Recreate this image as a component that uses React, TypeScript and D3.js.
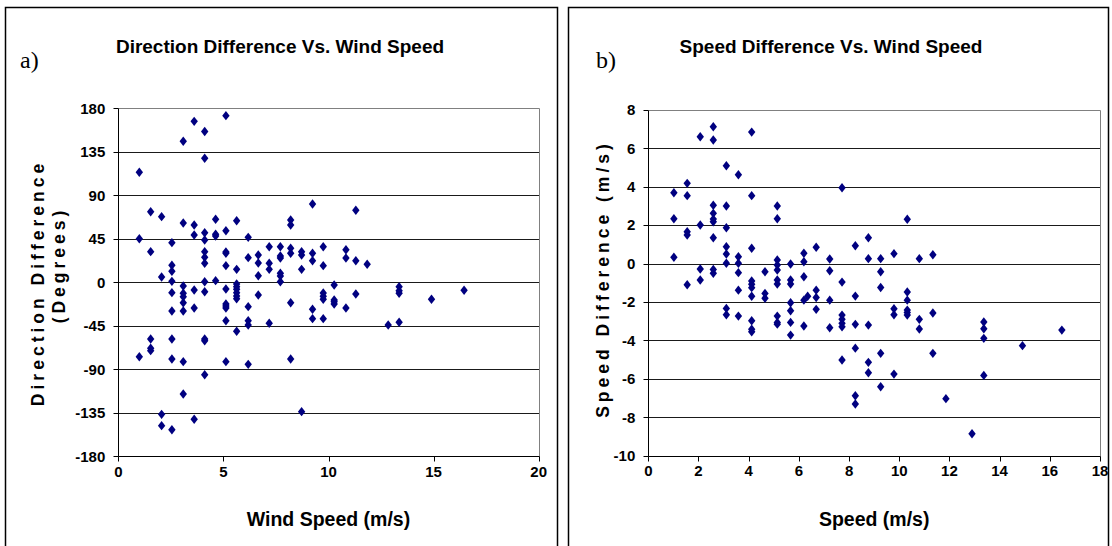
import React from "react";
import * as d3 from "d3";

// ---------- DATA ----------
const dirTitle = "Direction Difference Vs. Wind Speed";
const spdTitle = "Speed Difference Vs. Wind Speed";
const dirYTicks = [-180, -135, -90, -45, 0, 45, 90, 135, 180];
const dirXTicks = [0, 5, 10, 15, 20];
const spdYTicks = [-10, -8, -6, -4, -2, 0, 2, 4, 6, 8];
const spdXTicks = [0, 2, 4, 6, 8, 10, 12, 14, 16, 18];

// Direction difference (degrees) vs wind speed (m/s)
const dirPoints: [number, number][] = [
  [1.0, 113.8], [1.0, 45], [1.0, -77],
  [1.54, 73], [1.54, 31.7], [1.54, -58.7], [1.54, -68.3], [1.54, -70.7],
  [2.06, 67.9], [2.06, 5.5], [2.06, -136.6], [2.06, -148.3],
  [2.55, 41], [2.55, 17.6], [2.55, 11.4], [2.55, 1.0], [2.55, -10.7], [2.55, -29.7], [2.55, -58.7], [2.55, -79.3], [2.55, -152.5],
  [3.09, 145.9], [3.09, 61.3], [3.09, -3.8], [3.09, -11.4], [3.09, -14.9], [3.09, -21.1], [3.09, -29.7], [3.09, -82.1], [3.09, -115.6],
  [3.61, 166.5], [3.61, 59.3], [3.61, 49], [3.61, -8], [3.61, -26.6], [3.61, -141.7],
  [4.11, 156], [4.11, 128.3], [4.11, 51.3], [4.11, 43.8], [4.11, 31.7], [4.11, 25.9], [4.11, 19.7], [4.11, 0.6], [4.11, -9.7], [4.11, -58.7], [4.11, -60.4], [4.11, -95.6],
  [4.63, 65.2], [4.63, 49.7], [4.63, 47.9], [4.63, 1.7],
  [5.12, 172.4], [5.12, 53.4], [5.12, 31.3], [5.12, 30], [5.12, 17.2], [5.12, -6.9], [5.12, -22.4], [5.12, -24.5], [5.12, -26.6], [5.12, -39.7], [5.12, -82.1],
  [5.63, 63.7], [5.63, 13.4], [5.63, -1.8], [5.63, -4.5], [5.63, -7.2], [5.63, -10.8], [5.63, -14.2], [5.63, -17], [5.63, -50.7],
  [6.18, 46.5], [6.18, 25.5], [6.18, -25.2], [6.18, -39.7], [6.18, -44.2], [6.18, -84.9],
  [6.66, 28.2], [6.66, 20], [6.66, 6.8], [6.66, -13.1],
  [7.18, 36.8], [7.18, 19.7], [7.18, 13.4], [7.18, -42.4],
  [7.71, 36.8], [7.71, 27.2], [7.71, 25.1], [7.71, 9.3], [7.71, 6.5], [7.71, 0.6],
  [8.2, 64.4], [8.2, 59.3], [8.2, 35.2], [8.2, 30], [8.2, -21.1], [8.2, -79.3],
  [8.72, 31.7], [8.72, 28.2], [8.72, 13.4], [8.72, -133.8],
  [9.24, 81], [9.24, 30], [9.24, 22.3], [9.24, -27.9], [9.24, -37.6],
  [9.75, 36.8], [9.75, 17.2], [9.75, -11], [9.75, -14.5], [9.75, -17.6], [9.75, -37.6],
  [10.27, -2.8], [10.27, -18.3], [10.27, -20], [10.27, -22.4],
  [10.83, 33.7], [10.83, 25.1], [10.83, -26.6],
  [11.3, 74.5], [11.3, 22.3], [11.3, -12.1],
  [11.84, 18.6],
  [12.84, -44.2],
  [13.36, -4.5], [13.36, -8.7], [13.36, -11.4], [13.36, -41.4],
  [14.9, -17.6],
  [16.45, -8.3],
];

// Speed difference (m/s) vs speed (m/s)
const spdPoints: [number, number][] = [
  [1.02, 3.69], [1.02, 2.34], [1.02, 0.33],
  [1.55, 4.18], [1.55, 3.54], [1.55, 1.66], [1.55, 1.49], [1.55, -1.1],
  [2.07, 6.61], [2.07, 2.01], [2.07, -0.28], [2.07, -0.85],
  [2.59, 7.13], [2.59, 6.44], [2.59, 3.04], [2.59, 2.62], [2.59, 2.32], [2.59, 2.18], [2.59, 1.35], [2.59, -0.3], [2.59, -0.5],
  [3.11, 5.1], [3.11, 3.0], [3.11, 1.87], [3.11, 0.88], [3.11, 0.5], [3.11, 0.02], [3.11, -2.33], [3.11, -2.66],
  [3.59, 4.63], [3.59, 0.36], [3.59, 0.02], [3.59, -0.47], [3.59, -1.38], [3.59, -2.73],
  [4.12, 6.85], [4.12, 3.54], [4.12, 0.8], [4.12, -0.9], [4.12, -1.07], [4.12, -1.25], [4.12, -1.7], [4.12, -2.97], [4.12, -3.41], [4.12, -3.55],
  [4.65, -0.42], [4.65, -1.55], [4.65, -1.8],
  [5.14, 3.0], [5.14, 2.34], [5.14, 0.19], [5.14, -0.07], [5.14, -0.33], [5.14, -0.85], [5.14, -1.06], [5.14, -2.73], [5.14, -3.06], [5.14, -3.15],
  [5.67, -0.02], [5.67, -0.85], [5.67, -1.06], [5.67, -2.04], [5.67, -2.45], [5.67, -3.06], [5.67, -3.72],
  [6.2, 0.54], [6.2, 0.1], [6.2, -0.68], [6.2, -1.9], [6.2, -3.25],
  [6.35, -1.7],
  [6.69, 0.85], [6.69, -1.38], [6.69, -1.76], [6.69, -2.38],
  [7.23, 0.24], [7.23, -0.37], [7.23, -1.9], [7.23, -3.34],
  [7.72, 3.95], [7.72, -0.96], [7.72, -2.68], [7.72, -2.89], [7.72, -3.11], [7.72, -3.29], [7.72, -5.02],
  [8.25, 0.93], [8.25, -1.69], [8.25, -3.16], [8.25, -4.4], [8.25, -6.88], [8.25, -7.31],
  [8.77, 1.35], [8.77, 0.26], [8.77, -3.2], [8.77, -5.14], [8.77, -5.68],
  [9.26, 0.26], [9.26, -0.42], [9.26, -1.24], [9.26, -4.67], [9.26, -6.41],
  [9.79, 0.52], [9.79, -2.35], [9.79, -2.66], [9.79, -5.75],
  [10.32, 2.31], [10.32, -1.48], [10.32, -1.9], [10.32, -2.42], [10.32, -2.54], [10.32, -2.68],
  [10.8, 0.26], [10.8, -2.9], [10.8, -3.4],
  [11.34, 0.46], [11.34, -2.57], [11.34, -4.67],
  [11.86, -7.03],
  [12.9, -8.86],
  [13.37, -3.04], [13.37, -3.39], [13.37, -3.89], [13.37, -5.82],
  [14.91, -4.27],
  [16.48, -3.46],
];

// ---------- STYLE ----------
const NARROW = "'Liberation Sans Narrow', 'Arial Narrow', 'Liberation Sans', Arial, sans-serif";
const WIDE = "'Liberation Sans', Arial, sans-serif";
const MARK = "#000080";
const diamond = "M0,-4.7L3.7,0L0,4.7L-3.7,0Z";

type PanelProps = {
  box: [number, number, number, number];
  letter: string;
  letterX: number;
  title: string;
  titleX: number;
  xTitle: string;
  yTitleLines: string[];
  yTitleX: number[];
  yTitleY: number[];
  x: d3.ScaleLinear<number, number>;
  y: d3.ScaleLinear<number, number>;
  xTicks: number[];
  yTicks: number[];
  points: [number, number][];
};

function Panel(p: PanelProps) {
  const [x0, x1] = p.x.range();
  const [y0, y1] = p.y.range(); // y0 bottom, y1 top
  const snap = (v: number) => Math.round(v) + 0.5;
  return (
    <g>
      <rect x={p.box[0] + 0.5} y={p.box[1] + 0.5} width={p.box[2]} height={p.box[3]} fill="white" stroke="#000" strokeWidth={1.5} />
      <text x={p.letterX} y={68} fontFamily="'Liberation Serif', 'Times New Roman', serif" fontSize={24}>{p.letter}</text>
      <text x={p.titleX} y={53} textAnchor="middle" fontFamily={NARROW} fontWeight="bold" fontSize={19}>{p.title}</text>
      {p.yTicks.map((t, i) => {
        const yy = snap(p.y(t));
        const isTop = i === p.yTicks.length - 1;
        if (i === 0) return null;
        return <line key={"g" + t} x1={snap(x0)} x2={snap(x1)} y1={yy} y2={yy} stroke={isTop ? "#808080" : "#1a1a1a"} strokeWidth={1} />;
      })}
      <line x1={snap(x1)} x2={snap(x1)} y1={snap(y1)} y2={snap(y0)} stroke="#808080" strokeWidth={1} />
      <line x1={snap(x0)} x2={snap(x0)} y1={snap(y1)} y2={snap(y0)} stroke="#000" strokeWidth={1} />
      <line x1={snap(x0)} x2={snap(x1)} y1={snap(y0)} y2={snap(y0)} stroke="#000" strokeWidth={1} />
      {p.yTicks.map((t) => (
        <g key={"yt" + t}>
          <line x1={snap(x0) - 5} x2={snap(x0)} y1={snap(p.y(t))} y2={snap(p.y(t))} stroke="#000" />
          <text x={x0 - 13} y={p.y(t)} dy="0.35em" textAnchor="end" fontFamily={NARROW} fontWeight="bold" fontSize={15}>{t}</text>
        </g>
      ))}
      {p.xTicks.map((t) => (
        <g key={"xt" + t}>
          <line x1={snap(p.x(t))} x2={snap(p.x(t))} y1={snap(y0)} y2={snap(y0) + 5} stroke="#000" />
          <text x={p.x(t)} y={y0 + 15} dy="0.35em" textAnchor="middle" fontFamily={NARROW} fontWeight="bold" fontSize={15}>{t}</text>
        </g>
      ))}
      <text x={(x0 + x1) / 2} y={526} textAnchor="middle" fontFamily={NARROW} fontWeight="bold" fontSize={19.5}>{p.xTitle}</text>
      {p.yTitleLines.map((s, i) => (
        <text key={"yl" + i} transform={`translate(${p.yTitleX[i]},${p.yTitleY[i]}) rotate(-90)`} textAnchor="middle" dy="0.35em" fontFamily={WIDE} fontWeight="bold" fontSize={17.5} letterSpacing={4}>{s}</text>
      ))}
      {p.points.map((d, i) => (
        <path key={"p" + i} d={diamond} transform={`translate(${p.x(d[0])},${p.y(d[1])})`} fill={MARK} />
      ))}
    </g>
  );
}

export default function App() {
  const xL = d3.scaleLinear().domain([0, 20]).range([118.3, 538.7]);
  const yL = d3.scaleLinear().domain([-180, 180]).range([456.3, 108.3]);
  const xR = d3.scaleLinear().domain([0, 18]).range([648.3, 1100]);
  const yR = d3.scaleLinear().domain([-10, 8]).range([455.7, 110]);
  return (
    <svg width={1112} height={546} style={{ position: "absolute", left: 0, top: 0, background: "white" }}>
      <Panel box={[5, 7, 552, 545]} letter="a)" letterX={20} title={dirTitle} titleX={280}
        xTitle="Wind Speed (m/s)" yTitleLines={["Direction Difference", "(Degrees)"]} yTitleX={[38, 59]} yTitleY={[283, 265]}
        x={xL} y={yL} xTicks={dirXTicks} yTicks={dirYTicks} points={dirPoints} />
      <Panel box={[568, 7, 540, 545]} letter="b)" letterX={596} title={spdTitle} titleX={831}
        xTitle="Speed (m/s)" yTitleLines={["Speed Difference (m/s)"]} yTitleX={[603]} yTitleY={[279]}
        x={xR} y={yR} xTicks={spdXTicks} yTicks={spdYTicks} points={spdPoints} />
    </svg>
  );
}
